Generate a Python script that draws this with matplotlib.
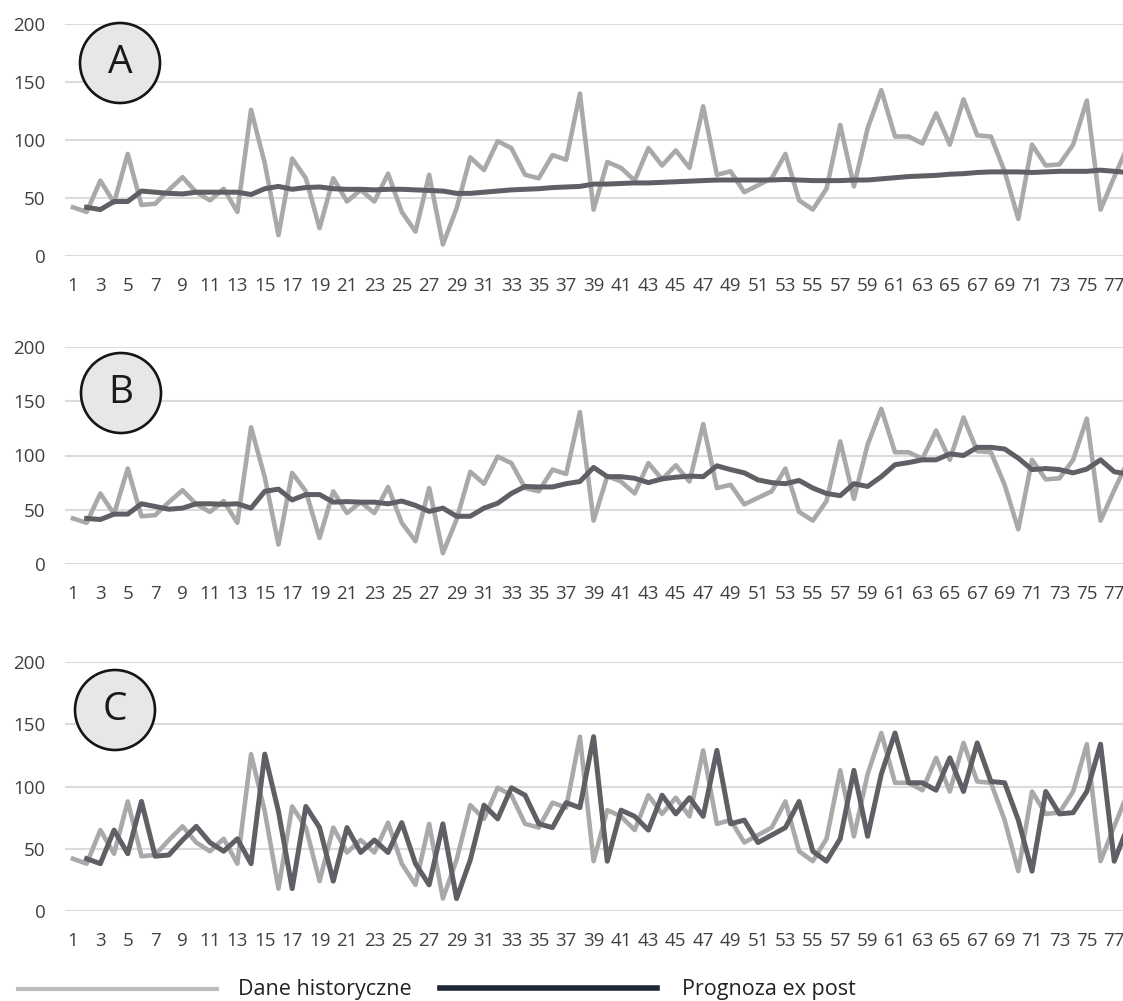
import numpy as np
import matplotlib.pyplot as plt
from matplotlib.patches import Ellipse
from matplotlib.lines import Line2D

# dane historyczne (okresy 1..78)
hist = [42, 38, 65, 46, 88, 44, 45, 57, 68, 55,
        48, 58, 38, 126, 80, 18, 84, 67, 24, 67,
        47, 57, 47, 71, 38, 21, 70, 10, 41, 85,
        74, 99, 93, 70, 67, 87, 83, 140, 40, 81,
        76, 65, 93, 78, 91, 76, 129, 70, 73, 55,
        61, 67, 88, 48, 40, 58, 113, 60, 110, 143,
        103, 103, 97, 123, 96, 135, 104, 103, 73, 32,
        96, 78, 79, 96, 134, 40, 68, 95]

# prognozy ex post (okresy 2..78)
prog_a = [42, 40, 47, 47, 56, 55, 54, 53.5, 55, 55,
          55, 55, 53, 58, 60, 57.5, 59, 59.5, 58, 57.5,
          57.5, 57, 57.5, 57.5, 57, 56.5, 56, 54, 54, 55,
          56, 57, 57.5, 58, 59, 59.5, 60, 62, 62, 62.5,
          63, 63, 63.5, 64, 64.5, 65, 65.5, 65.5, 65.5, 65.5,
          65.5, 66, 65.5, 65, 65, 65, 65.5, 65.5, 66.5, 67.5,
          68.5, 69, 69.5, 70.5, 71, 72, 72.5, 72.5, 72.5, 72,
          72.5, 73, 73, 73, 74, 73, 72]

prog_b = [42, 41, 46, 46, 55.5, 53, 50.5, 51.5, 55.5, 55.5,
          55, 55.5, 51.5, 67, 69, 59, 64, 64, 57, 57.5,
          57, 57, 55.5, 58, 54, 48.5, 51.5, 44, 44, 51.5,
          56, 65, 71.5, 71, 71, 74, 76, 89, 80.5, 80.5,
          79, 75, 78.5, 80, 81, 80.5, 90.5, 87, 84, 77.5,
          75, 74, 77, 70, 65, 63, 74, 71.5, 80.5, 91.5,
          93.5, 96, 96, 101.5, 100, 107.5, 107.5, 106, 97.5, 87,
          88, 87, 84, 87.5, 96, 85, 83]

prog_c = [42, 38, 65, 46, 88, 44, 45, 57, 68, 55,
          48, 58, 38, 126, 80, 18, 84, 67, 24, 67,
          47, 57, 47, 71, 38, 21, 70, 10, 41, 85,
          74, 99, 93, 70, 67, 87, 83, 140, 40, 81,
          76, 65, 93, 78, 91, 76, 129, 70, 73, 55,
          61, 67, 88, 48, 40, 58, 113, 60, 110, 143,
          103, 103, 97, 123, 96, 135, 104, 103, 73, 32,
          96, 78, 79, 96, 134, 40, 68]

panels = ['A', 'B', 'C']
y_ticks = [0, 50, 100, 150, 200]
x_ticks = list(range(1, 78, 2))

plt.rcParams['font.family'] = ['Open Sans', 'DejaVu Sans']

W, H = 1123, 1001
fig = plt.figure(figsize=(W / 100, H / 100), dpi=100)

# (piksel linii 200, piksel linii 0)
boxes = [(24, 256), (347, 564), (662, 911)]
circles = [(120, 63), (121, 393), (115, 710)]
progs = [prog_a, prog_b, prog_c]

x_hist = np.arange(1, len(hist) + 1)
left = 65

for (top, bot), (cx, cy), name, prog in zip(boxes, circles, panels, progs):
    ax = fig.add_axes([left / W, 1 - bot / H, (W - left) / W, (bot - top) / H])
    ax.plot(x_hist, hist, color='#a9a9a9', lw=3.3, zorder=2)
    ax.plot(np.arange(2, len(prog) + 2), prog, color='#5e6065', lw=3.6, zorder=3)
    ax.set_ylim(0, 200)
    ax.set_xlim(0.42, 77.64)
    ax.set_yticks(y_ticks)
    ax.set_xticks(x_ticks)
    ax.grid(axis='y', color='#dcdcdc', lw=1.5)
    ax.set_axisbelow(True)
    for s in ax.spines.values():
        s.set_visible(False)
    ax.tick_params(axis='y', length=0, labelsize=13.5, colors='#404040', pad=14)
    ax.tick_params(axis='x', length=0, labelsize=13.5, colors='#404040', pad=15)

    fig.add_artist(Ellipse((cx / W, 1 - cy / H), 80 / W, 80 / H, transform=fig.transFigure,
                           facecolor='#e7e7e7', edgecolor='#151515', lw=1.9, zorder=5))
    fig.text(cx / W, 1 - cy / H, name, ha='center', va='center', fontsize=28,
             color='#1a1a1a', zorder=6)

# legenda
fig.add_artist(Line2D([18 / W, 217 / W], [1 - 989 / H, 1 - 989 / H], transform=fig.transFigure,
                      color='#bdbdbd', lw=3))
fig.text(238 / W, 1 - 990 / H, 'Dane historyczne', ha='left', va='center', fontsize=15.5, color='#222222')
fig.add_artist(Line2D([440 / W, 657 / W], [1 - 988 / H, 1 - 988 / H], transform=fig.transFigure,
                      color='#1d2733', lw=4))
fig.text(682 / W, 1 - 990 / H, 'Prognoza ex post', ha='left', va='center', fontsize=15.5, color='#222222')

fig.savefig('out.png', dpi=100)
